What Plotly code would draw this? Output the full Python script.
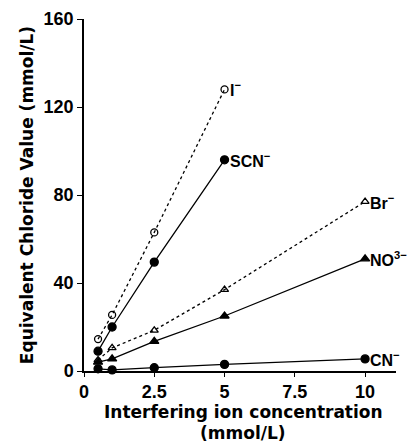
import plotly.graph_objects as go

x_i = [0.5, 1, 2.5, 5]
y_i = [14.5, 25.5, 63, 128]
x_scn = [0.5, 1, 2.5, 5]
y_scn = [9, 20, 49.5, 96]
x_br = [0.5, 1, 2.5, 5, 10]
y_br = [5, 10.5, 18.5, 37, 77]
x_no3 = [0.5, 1, 2.5, 5, 10]
y_no3 = [4, 5.5, 13.5, 25, 51]
x_cn = [0.5, 1, 2.5, 5, 10]
y_cn = [1, 0.5, 1.5, 3, 5.5]

labels = ["I<sup>−</sup>", "SCN<sup>−</sup>", "Br<sup>−</sup>", "NO<sup>3−</sup>", "CN<sup>−</sup>"]
x_ticks = [0, 2.5, 5, 7.5, 10]
x_tick_text = ["0", "2.5", "5", "7.5", "10"]
y_ticks = [0, 40, 80, 120, 160]
x_title_lines = ["Interfering ion concentration", "(mmol/L)"]
y_title = "Equivalent Chloride Value (mmol/L)"

FONT = "Liberation Sans, Arial, sans-serif"
TFONT = "DejaVu Sans, Liberation Sans, sans-serif"
fig = go.Figure()

series = [
    (x_i, y_i, "dot", "circle-open", 7),
    (x_scn, y_scn, "solid", "circle", 8),
    (x_br, y_br, "dot", "triangle-up-open", 7),
    (x_no3, y_no3, "solid", "triangle-up", 8),
    (x_cn, y_cn, "solid", "circle", 8),
]
for (xs, ys, dash, sym, sz), lab in zip(series, labels):
    fig.add_trace(go.Scatter(
        x=xs, y=ys, mode="lines+markers",
        line=dict(color="black", width=1.3, dash=dash),
        marker=dict(symbol=sym, size=sz, color="black", line=dict(color="black", width=1.3)),
        cliponaxis=False, showlegend=False,
    ))
    fig.add_annotation(x=xs[-1], y=ys[-1], text="<b>" + lab + "</b>", showarrow=False,
                       xanchor="left", yanchor="middle", xshift=3,
                       font=dict(family=FONT, size=16, color="black"))

# x-axis title as two lines placed below the tick labels
for line, shift in zip(x_title_lines, [-41, -62]):
    fig.add_annotation(xref="paper", yref="paper", x=0.51, y=0, text="<b>" + line + "</b>",
                       showarrow=False, xanchor="center", yanchor="middle", yshift=shift,
                       font=dict(family=TFONT, size=17, color="black"))

fig.update_layout(
    width=409, height=434,
    margin=dict(l=76, r=21, t=11, b=71),
    paper_bgcolor="white", plot_bgcolor="white",
    font=dict(family=FONT, color="black"),
)
fig.update_xaxes(
    range=[0, 11.1], tickvals=x_ticks, ticktext=["<b>%s</b>" % t for t in x_tick_text],
    showgrid=False, zeroline=False, showline=True, linecolor="black", linewidth=1.5,
    ticks="outside", ticklen=4, tickcolor="black", automargin=False,
    tickfont=dict(family=FONT, size=18, color="black"),
)
fig.update_yaxes(
    range=[0, 160], tickvals=y_ticks, ticktext=["<b>%d</b>" % t for t in y_ticks],
    showgrid=False, zeroline=False, showline=True, linecolor="black", linewidth=1.5,
    ticks="outside", ticklen=5, tickcolor="black", automargin=False,
    tickfont=dict(family=FONT, size=18, color="black"),
    title=dict(text="<b>" + y_title + "</b>",
               font=dict(family=TFONT, size=17, color="black"), standoff=6),
)
fig.write_html("out.html")
